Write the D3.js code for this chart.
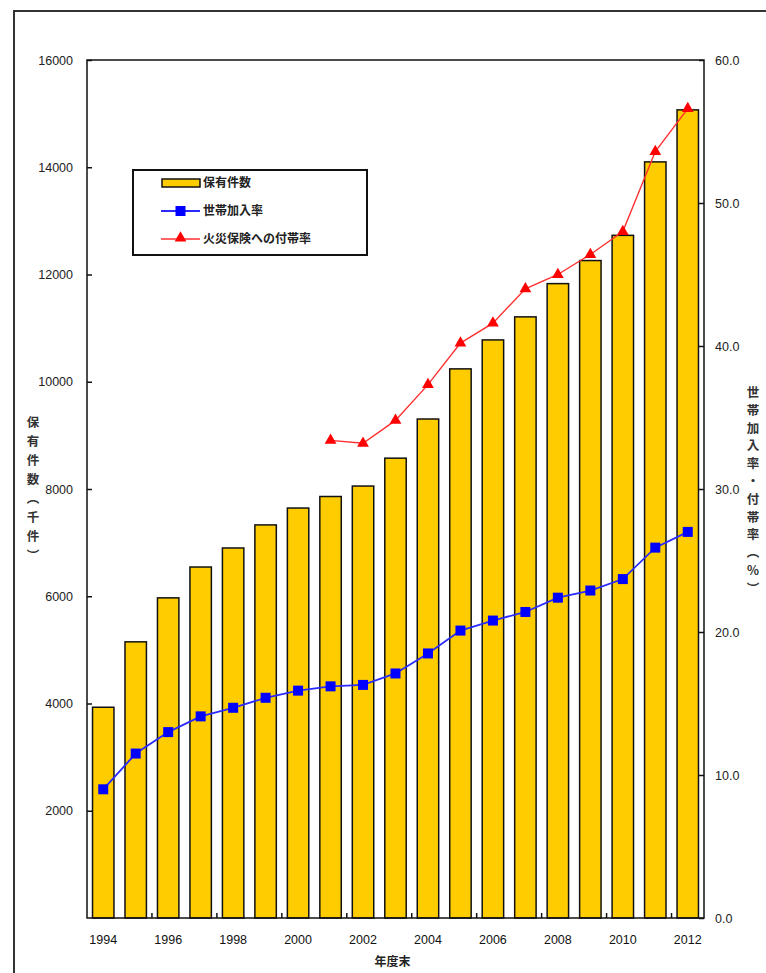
<!DOCTYPE html>
<html>
<head>
  <meta charset="utf-8">
  <title>保有件数と付帯率</title>
  <script src="https://d3js.org/d3.v7.min.js"></script>
  <style>
    body { margin: 0; background: #fff; }
    text { font-family: "Liberation Sans", Arial, sans-serif; }
    .jp { font-family: "Noto Sans CJK JP", sans-serif; font-weight: bold; }
  </style>
</head>
<body>
<script>
// データ
var years = ["1994","1995","1996","1997","1998","1999","2000","2001","2002","2003",
             "2004","2005","2006","2007","2008","2009","2010","2011","2012"];
// 保有件数（千件）
var holdings = [3930, 5150, 5970, 6545, 6900, 7330, 7645, 7860, 8055, 8575,
                9305, 10240, 10780, 11210, 11830, 12260, 12730, 14100, 15070];
// 世帯加入率（%）
var householdRate = [9.0, 11.5, 13.0, 14.1, 14.7, 15.4, 15.9, 16.2, 16.3, 17.1,
                     18.5, 20.1, 20.8, 21.4, 22.4, 22.9, 23.7, 25.9, 27.0];
// 火災保険への付帯率（%） 2001年度から
var attachYears = ["2001","2002","2003","2004","2005","2006","2007","2008","2009","2010","2011","2012"];
var attachRate = [33.4, 33.2, 34.8, 37.3, 40.2, 41.6, 44.0, 45.0, 46.4, 48.0, 53.6, 56.6];

var leftTicks = [2000, 4000, 6000, 8000, 10000, 12000, 14000, 16000];
var rightTicks = [0, 10, 20, 30, 40, 50, 60];
var labelYears = ["1994","1996","1998","2000","2002","2004","2006","2008","2010","2012"];
var boundaryYears = ["1996","1998","2000","2002","2004","2006","2008","2010","2012"];

var W = 766, H = 973;
var margin = { top: 60, right: 62, bottom: 55, left: 87 },
    width = 704 - margin.left,
    height = 918 - margin.top;

var svg = d3.select("body").append("svg")
    .attr("width", W)
    .attr("height", H);

// 外枠
svg.append("rect")
    .attr("x", 14).attr("y", 11)
    .attr("width", 820).attr("height", 1000)
    .attr("fill", "none")
    .attr("stroke", "#333")
    .attr("stroke-width", 2);

var g = svg.append("g")
    .attr("transform", "translate(" + margin.left + "," + margin.top + ")");

var x = d3.scaleBand()
    .domain(years)
    .range([0, width])
    .paddingInner(0.34)
    .paddingOuter(0.17);

var yL = d3.scaleLinear().domain([0, 16000]).range([height, 0]);
var yR = d3.scaleLinear().domain([0, 60]).range([height, 0]);

// 棒グラフ
g.selectAll(".bar")
  .data(years)
  .enter().append("rect")
    .attr("class", "bar")
    .attr("x", function(d) { return x(d); })
    .attr("y", function(d, i) { return yL(holdings[i]); })
    .attr("width", x.bandwidth())
    .attr("height", function(d, i) { return height - yL(holdings[i]); })
    .attr("fill", "#FFCC00")
    .attr("stroke", "#111")
    .attr("stroke-width", 1.5);

// プロット枠
g.append("rect")
    .attr("width", width).attr("height", height)
    .attr("fill", "none")
    .attr("stroke", "#111")
    .attr("stroke-width", 1.5);

var cx = function(d) { return x(d) + x.bandwidth() / 2; };

// 世帯加入率
var blueLine = d3.line()
    .x(function(d) { return cx(d); })
    .y(function(d, i) { return yR(householdRate[i]); });

g.append("path")
    .datum(years)
    .attr("d", blueLine)
    .attr("fill", "none")
    .attr("stroke", "#2a2aff")
    .attr("stroke-width", 1.8);

g.selectAll(".sq")
  .data(years)
  .enter().append("rect")
    .attr("x", function(d) { return cx(d) - 5; })
    .attr("y", function(d, i) { return yR(householdRate[i]) - 5; })
    .attr("width", 10).attr("height", 10)
    .attr("fill", "#0000ff");

// 付帯率
var redLine = d3.line()
    .x(function(d) { return cx(d); })
    .y(function(d, i) { return yR(attachRate[i]); });

g.append("path")
    .datum(attachYears)
    .attr("d", redLine)
    .attr("fill", "none")
    .attr("stroke", "#ff3030")
    .attr("stroke-width", 1.4);

var tri = d3.symbol().type(d3.symbolTriangle).size(60);
g.selectAll(".tri")
  .data(attachYears)
  .enter().append("path")
    .attr("d", tri)
    .attr("transform", function(d, i) { return "translate(" + cx(d) + "," + yR(attachRate[i]) + ")"; })
    .attr("fill", "#ff0000");

// 左軸
var axL = g.append("g")
    .call(d3.axisLeft(yL).tickValues(leftTicks).tickFormat(d3.format("d"))
      .tickSizeInner(-5).tickSizeOuter(0).tickPadding(14));
axL.select(".domain").remove();
axL.selectAll(".tick line").attr("stroke", "#111").attr("stroke-width", 1.5);
axL.selectAll("text").attr("font-size", "12.5px").attr("fill", "#222");

// 右軸
var axR = g.append("g")
    .attr("transform", "translate(" + width + ",0)")
    .call(d3.axisRight(yR).tickValues(rightTicks).tickFormat(d3.format(".1f"))
      .tickSizeInner(-5).tickSizeOuter(0).tickPadding(11));
axR.select(".domain").remove();
axR.selectAll(".tick line").attr("stroke", "#111").attr("stroke-width", 1.5);
axR.selectAll("text").attr("font-size", "12.5px").attr("fill", "#222");

// 下軸
var axB = g.append("g")
    .attr("transform", "translate(0," + height + ")")
    .call(d3.axisBottom(x).tickValues(labelYears).tickSize(0).tickPadding(17));
axB.select(".domain").remove();
axB.selectAll("text").attr("font-size", "12.5px").attr("fill", "#111");

var gap = (x.step() - x.bandwidth()) / 2;
g.selectAll(".btick")
  .data(boundaryYears)
  .enter().append("line")
    .attr("x1", function(d) { return x(d) - gap; })
    .attr("x2", function(d) { return x(d) - gap; })
    .attr("y1", height).attr("y2", height - 5)
    .attr("stroke", "#111").attr("stroke-width", 1.5);

// 軸タイトル
svg.append("text")
    .attr("class", "jp")
    .attr("x", margin.left + width / 2 - 3)
    .attr("y", 966)
    .attr("text-anchor", "middle")
    .attr("font-size", "12px")
    .attr("fill", "#222")
    .text("年度末");

function verticalTitle(chars, xc, y0, step) {
  svg.append("text")
      .attr("class", "jp")
      .attr("font-size", "12.5px")
      .attr("fill", "#333")
      .attr("text-anchor", "middle")
    .selectAll("tspan")
    .data(chars)
    .enter().append("tspan")
      .attr("x", xc)
      .attr("y", function(d, i) { return y0 + i * step; })
      .text(function(d) { return d; });
}
verticalTitle(["保","有","件","数","︵","千","件","︶"], 33, 427, 19);
verticalTitle(["世","帯","加","入","率","・","付","帯","率","︵","%","︶"], 753, 397, 17.8);

// 凡例
var lg = svg.append("g");
lg.append("rect")
    .attr("x", 133).attr("y", 170)
    .attr("width", 234).attr("height", 85)
    .attr("fill", "#fff")
    .attr("stroke", "#111")
    .attr("stroke-width", 2);

lg.append("rect")
    .attr("x", 162).attr("y", 179)
    .attr("width", 38).attr("height", 8)
    .attr("fill", "#FFCC00").attr("stroke", "#111").attr("stroke-width", 1.5);

lg.append("line").attr("x1", 161).attr("x2", 200).attr("y1", 211).attr("y2", 211)
    .attr("stroke", "#2a2aff").attr("stroke-width", 1.8);
lg.append("rect").attr("x", 175.5).attr("y", 206).attr("width", 10).attr("height", 10)
    .attr("fill", "#0000ff");

lg.append("line").attr("x1", 161).attr("x2", 200).attr("y1", 239).attr("y2", 239)
    .attr("stroke", "#ff3030").attr("stroke-width", 1.4);
lg.append("path").attr("d", tri).attr("transform", "translate(180.5,238)")
    .attr("fill", "#ff0000");

var legendNames = ["保有件数", "世帯加入率", "火災保険への付帯率"];
lg.selectAll(".lt")
  .data(legendNames)
  .enter().append("text")
    .attr("class", "jp")
    .attr("x", 203)
    .attr("y", function(d, i) { return 183 + i * 28; })
    .attr("dy", "0.35em")
    .attr("font-size", "12px")
    .attr("fill", "#222")
    .text(function(d) { return d; });
</script>
</body>
</html>
